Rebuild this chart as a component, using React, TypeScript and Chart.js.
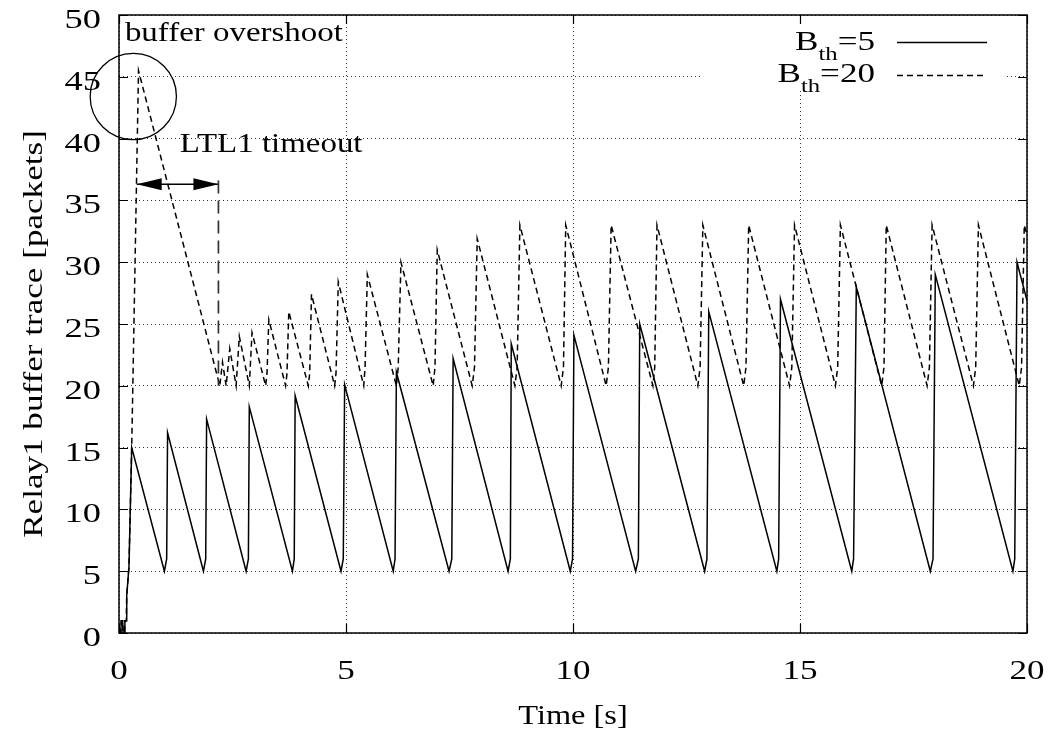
import React, { useEffect, useRef } from "react";
import { Chart, registerables } from "chart.js";

Chart.register(...registerables);

// ---------- data ----------
const timeB5 = [0, 0.04, 0.05, 0.08, 0.09, 0.12, 0.13, 0.16, 0.17, 0.22, 0.28,
  1.0, 1.05, 1.07, 1.86, 1.91, 1.93, 2.8, 2.85, 2.87, 3.82, 3.86, 3.88,
  4.89, 4.94, 4.97, 6.04, 6.08, 6.11, 7.27, 7.33, 7.36, 8.57, 8.62, 8.64,
  9.94, 9.99, 10.02, 11.38, 11.44, 11.47, 12.9, 12.95, 12.99, 14.49, 14.53, 14.57,
  16.14, 16.18, 16.24, 17.87, 17.93, 17.98, 19.69, 19.73, 19.78, 20];
const bufB5 = [0, 0, 1, 1, 0, 0, 1, 1, 3, 5.4, 15,
  5, 6, 16.2, 5, 6, 17.3, 5, 6, 18.3, 5, 6, 19.2,
  5, 6, 20.1, 5, 6, 21.1, 5, 6, 22.2, 5, 6, 23.4,
  5, 6, 24.1, 5, 6, 25.0, 5, 6, 26.0, 5, 6, 27.0,
  5, 6, 28.0, 5, 6, 29.0, 5, 6, 30.0, 26.9];

const timeB20 = [0, 0.04, 0.05, 0.08, 0.09, 0.12, 0.13, 0.16, 0.17, 0.22, 0.28, 0.43,
  2.22, 2.28, 2.36, 2.44, 2.58, 2.65, 2.87, 2.93, 3.23, 3.26, 3.3, 3.67, 3.7, 3.74,
  4.17, 4.2, 4.24, 4.75, 4.78, 4.83, 5.39, 5.42, 5.47, 6.11, 6.15, 6.21,
  6.92, 6.96, 7.01, 7.78, 7.83, 7.89, 8.72, 8.77, 8.83, 9.74, 9.79, 9.84,
  10.73, 10.78, 10.84, 11.76, 11.8, 11.85, 12.75, 12.8, 12.86, 13.76, 13.81, 13.87,
  14.77, 14.82, 14.88, 15.78, 15.83, 15.89, 16.8, 16.85, 16.9, 17.8, 17.85, 17.91,
  18.82, 18.87, 18.93, 19.83, 19.88, 19.94, 20];
const bufB20 = [0, 0, 1, 1, 0, 0, 1, 1, 3, 5.4, 15, 45.5,
  20, 21.9, 20, 23.0, 20, 24.0, 20, 24.3, 20, 21, 25.35, 20, 21, 26.0,
  20, 21, 27.4, 20, 21, 28.4, 20, 21.5, 29.0, 20, 21.5, 30.0,
  20, 21.5, 31.0, 20, 21.5, 31.9, 20, 21.5, 33, 20, 21.5, 33,
  20, 21.5, 33, 20, 21.5, 33, 20, 21.5, 33, 20, 21.5, 33,
  20, 21.5, 33, 20, 21.5, 33, 20, 21.5, 33, 20, 21.5, 33,
  20, 21.5, 33, 20, 21.5, 33, 32.2];

const seriesLabels = ["5", "20"];
const xTicks = [0, 5, 10, 15, 20];
const yTicks = [0, 5, 10, 15, 20, 25, 30, 35, 40, 45, 50];
const xTitle = "Time [s]";
const yTitle = "Relay1 buffer trace [packets]";

// annotations (data coordinates)
const overshootLabel = { text: "buffer overshoot", x: 0.13, y: 47.9 };
const timeoutLabel = { text: "LTL1 timeout", x: 1.34, y: 38.95 };
const overshootCircle = { x: 0.315, y: 43.4, rx: 0.95 };
const timeoutArrow = { x1: 0.39, x2: 2.19, y: 36.3 };
const timeoutMarker = { x: 2.19, y1: 36.6, y2: 20 };

const FONT = '"Liberation Serif", "Times New Roman", serif';

function sText(ctx: CanvasRenderingContext2D, text: string, x: number, y: number,
  align: "left" | "right" | "center", size: number, sx: number) {
  ctx.save();
  ctx.font = `${size}px ${FONT}`;
  ctx.textBaseline = "alphabetic";
  ctx.textAlign = "left";
  const w = ctx.measureText(text).width * sx;
  const x0 = align === "left" ? x : align === "right" ? x - w : x - w / 2;
  ctx.translate(x0, y);
  ctx.scale(sx, 1);
  ctx.fillStyle = "#000";
  ctx.fillText(text, 0, 0);
  ctx.restore();
  return w;
}

function textWidth(ctx: CanvasRenderingContext2D, text: string, size: number, sx: number) {
  ctx.save();
  ctx.font = `${size}px ${FONT}`;
  const w = ctx.measureText(text).width * sx;
  ctx.restore();
  return w;
}

const gnuplotPlugin = {
  id: "gnuplotDecor",
  beforeDatasetsDraw(chart: any) {
    const ctx = chart.ctx as CanvasRenderingContext2D;
    // key box blanks the grid
    ctx.save();
    ctx.fillStyle = "#fff";
    ctx.fillRect(700, 25, 306, 66);
    ctx.restore();
  },
  afterDraw(chart: any) {
    const ctx = chart.ctx as CanvasRenderingContext2D;
    const { left, right, top, bottom } = chart.chartArea;
    const xs = chart.scales.x;
    const ys = chart.scales.y;

    // frame
    ctx.save();
    ctx.strokeStyle = "#000";
    ctx.lineWidth = 1.5;
    ctx.strokeRect(left, top, right - left, bottom - top);
    // inward ticks
    ctx.lineWidth = 1.2;
    ctx.beginPath();
    const tl = 9;
    xTicks.forEach((v) => {
      const px = Math.round(xs.getPixelForValue(v)) + 0.5;
      ctx.moveTo(px, bottom); ctx.lineTo(px, bottom - tl);
      ctx.moveTo(px, top); ctx.lineTo(px, top + tl);
    });
    yTicks.forEach((v) => {
      const py = Math.round(ys.getPixelForValue(v)) + 0.5;
      ctx.moveTo(left, py); ctx.lineTo(left + tl, py);
      ctx.moveTo(right, py); ctx.lineTo(right - tl, py);
    });
    ctx.stroke();
    ctx.restore();

    // tick labels
    xTicks.forEach((v) => {
      sText(ctx, String(v), xs.getPixelForValue(v), bottom + 46, "center", 27, 1.3);
    });
    yTicks.forEach((v) => {
      sText(ctx, String(v), left - 18, ys.getPixelForValue(v) + 13, "right", 27, 1.35);
    });

    // axis titles
    sText(ctx, xTitle, (left + right) / 2, 724, "center", 27, 1.2);
    ctx.save();
    ctx.translate(42, (top + bottom) / 2 + 10);
    ctx.rotate(-Math.PI / 2);
    sText(ctx, yTitle, 0, 0, "center", 27, 1.3);
    ctx.restore();

    // annotations
    sText(ctx, overshootLabel.text, xs.getPixelForValue(overshootLabel.x), ys.getPixelForValue(overshootLabel.y), "left", 27, 1.22);
    sText(ctx, timeoutLabel.text, xs.getPixelForValue(timeoutLabel.x), ys.getPixelForValue(timeoutLabel.y), "left", 27, 1.22);

    ctx.save();
    ctx.strokeStyle = "#000";
    ctx.lineWidth = 1.3;
    const cx = xs.getPixelForValue(overshootCircle.x);
    const cy = ys.getPixelForValue(overshootCircle.y);
    const r = xs.getPixelForValue(overshootCircle.x + overshootCircle.rx) - cx;
    ctx.beginPath();
    ctx.arc(cx, cy, r, 0, Math.PI * 2);
    ctx.stroke();

    // arrow with two heads
    const ax1 = xs.getPixelForValue(timeoutArrow.x1);
    const ax2 = xs.getPixelForValue(timeoutArrow.x2);
    const ay = ys.getPixelForValue(timeoutArrow.y);
    ctx.lineWidth = 1.5;
    ctx.beginPath();
    ctx.moveTo(ax1, ay); ctx.lineTo(ax2, ay);
    ctx.stroke();
    ctx.fillStyle = "#000";
    const hl = 25, hw = 6;
    ctx.beginPath();
    ctx.moveTo(ax1, ay); ctx.lineTo(ax1 + hl, ay - hw); ctx.lineTo(ax1 + hl, ay + hw); ctx.closePath();
    ctx.fill();
    ctx.beginPath();
    ctx.moveTo(ax2, ay); ctx.lineTo(ax2 - hl, ay - hw); ctx.lineTo(ax2 - hl, ay + hw); ctx.closePath();
    ctx.fill();

    // timeout marker (long dashes)
    const mx = xs.getPixelForValue(timeoutMarker.x);
    ctx.strokeStyle = "#333";
    ctx.lineWidth = 1.7;
    ctx.setLineDash([13, 7]);
    ctx.beginPath();
    ctx.moveTo(mx, ys.getPixelForValue(timeoutMarker.y1));
    ctx.lineTo(mx, ys.getPixelForValue(timeoutMarker.y2));
    ctx.stroke();
    ctx.restore();

    // key
    const keyRight = 875;
    const rows = [
      { label: seriesLabels[0], base: 50, sample: 42, dash: [] as number[] },
      { label: seriesLabels[1], base: 82, sample: 75, dash: [6, 4] },
    ];
    rows.forEach((row) => {
      const tail = "=" + row.label;
      const wTail = textWidth(ctx, tail, 27, 1.3);
      const wSub = textWidth(ctx, "th", 19, 1.3);
      const wB = textWidth(ctx, "B", 27, 1.3);
      let x = keyRight - wTail - wSub - wB;
      sText(ctx, "B", x, row.base, "left", 27, 1.3);
      x += wB;
      sText(ctx, "th", x, row.base + 10, "left", 19, 1.3);
      x += wSub;
      sText(ctx, tail, x, row.base, "left", 27, 1.3);
      ctx.save();
      ctx.strokeStyle = "#000";
      ctx.lineWidth = 1.4;
      ctx.setLineDash(row.dash);
      ctx.beginPath();
      ctx.moveTo(897, row.sample + 0.5);
      ctx.lineTo(987, row.sample + 0.5);
      ctx.stroke();
      ctx.restore();
    });
  },
};

export default function App() {
  const ref = useRef<HTMLCanvasElement | null>(null);
  useEffect(() => {
    if (!ref.current) return;
    const toPts = (xs: number[], ys: number[]) => xs.map((x, i) => ({ x, y: ys[i] }));
    const chart = new Chart(ref.current, {
      type: "line",
      data: {
        datasets: [
          {
            label: "B_th=5",
            data: toPts(timeB5, bufB5),
            borderColor: "#000",
            borderWidth: 1.5,
            pointRadius: 0,
            tension: 0,
            fill: false,
          },
          {
            label: "B_th=20",
            data: toPts(timeB20, bufB20),
            borderColor: "#000",
            borderWidth: 1.5,
            borderDash: [6, 4],
            pointRadius: 0,
            tension: 0,
            fill: false,
          },
        ],
      },
      options: {
        responsive: false,
        animation: false,
        devicePixelRatio: 1,
        layout: { padding: { top: 15, right: 21, left: 0, bottom: 0 } },
        plugins: { legend: { display: false }, tooltip: { enabled: false } },
        scales: {
          x: {
            type: "linear",
            min: 0,
            max: 20,
            ticks: { stepSize: 5, display: false },
            grid: { color: "#333", lineWidth: 1, drawTicks: false },
            border: { display: false, dash: [1, 3] },
            afterFit: (s: any) => { s.height = 103; },
          },
          y: {
            type: "linear",
            min: 0,
            max: 50,
            ticks: { stepSize: 5, display: false },
            grid: { color: "#333", lineWidth: 1, drawTicks: false },
            border: { display: false, dash: [1, 3] },
            afterFit: (s: any) => { s.width = 119; },
          },
        },
      },
      plugins: [gnuplotPlugin],
    });
    return () => chart.destroy();
  }, []);
  return (
    <div style={{ position: "fixed", left: 0, top: 0, width: 1048, height: 736, background: "#fff" }}>
      <canvas ref={ref} width={1048} height={736} style={{ display: "block" }} />
    </div>
  );
}
